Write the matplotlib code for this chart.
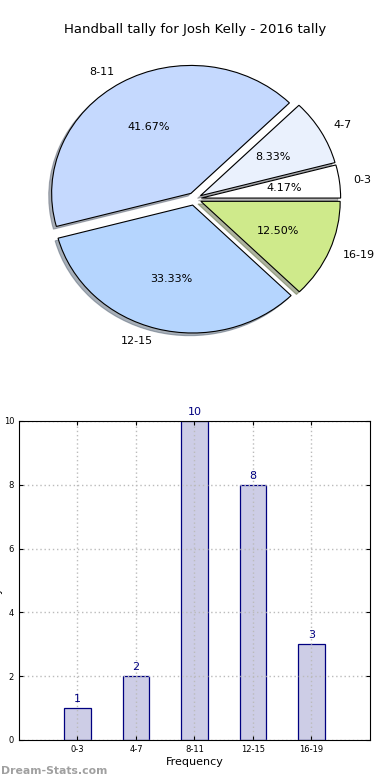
import matplotlib
matplotlib.use("Agg")
import matplotlib.pyplot as plt
import numpy as np

# data
labels = ['0-3', '4-7', '8-11', '12-15', '16-19']
counts = [1, 2, 10, 8, 3]
colors = ['#ffffff', '#eaf1fd', '#c5d9fe', '#b5d5fe', '#cfea8b']
title = 'Handball tally for Josh Kelly - 2016 tally'

fig = plt.figure(figsize=(3.9, 7.8), dpi=100)

# pie
ax1 = fig.add_axes([0.052, 0.54, 0.893, 0.41])
explode = [0.05] * len(counts)
wedges, texts, autotexts = ax1.pie(counts, labels=labels, colors=colors, explode=explode,
                                   autopct='%.2f%%', startangle=0,
                                   shadow={'ox': -0.015, 'oy': -0.015, 'shade': 0.55},
                                   wedgeprops={'edgecolor': 'black', 'linewidth': 0.8},
                                   textprops={'fontsize': 8})
ax1.set_aspect('auto')
ax1.set_xlim(-1.25, 1.25)
ax1.set_ylim(-1.25, 1.25)
fig.text(0.5, 1 - 30 / 780, title, ha='center', va='center', fontsize=9.5)

# bar
ax2 = fig.add_axes([0.0487, 0.0513, 0.9, 0.409])
ind = np.arange(len(counts))
ax2.bar(ind, counts, 0.45, color='#cdcde6', edgecolor='navy', linewidth=0.9, zorder=2)
for i, v in zip(ind, counts):
    ax2.text(i, v + 0.12, str(v), ha='center', va='bottom', color='navy', fontsize=8)
ax2.set_xlim(-1, 5)
ax2.set_ylim(0, 10)
ax2.set_xticks(ind)
ax2.set_xticklabels(labels)
ax2.set_yticks(np.arange(0, 11, 2))
ax2.tick_params(labelsize=6, direction='in', top=True, right=True, length=3)
ax2.grid(True, linestyle=(0, (1, 2)), color='#bbbbbb', linewidth=1)
ax2.set_axisbelow(False)
for sp in ax2.spines.values():
    sp.set_zorder(4)
ax2.set_xlabel('Frequency', fontsize=8, labelpad=2)
fig.text(-0.004, 0.255, 'Tally Count', rotation=90, ha='center', va='center', fontsize=8)

fig.text(0.002, 0.012, 'Dream-Stats.com', color='#a0a0a0', fontsize=7.8,
         fontweight='bold', ha='left', va='center')

fig.savefig('out.png', dpi=100)
